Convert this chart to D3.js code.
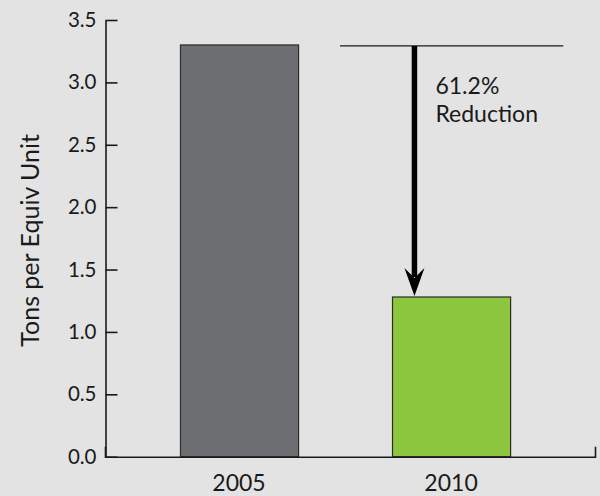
<!DOCTYPE html>
<html>
<head>
<meta charset="utf-8">
<script src="https://cdn.jsdelivr.net/npm/d3@7"></script>
<style>
  html, body { margin: 0; padding: 0; background: #e3e3e3; }
  svg { display: block; font-family: Lato, "Open Sans", sans-serif; }
  .tick text { fill: #1a1a1a; }
</style>
</head>
<body>
<div id="vis"></div>
<script>
var years = ['2005', '2010'];
var values = [3.30, 1.28];
var colors = ['#6d6e71', '#8cc63f'];
var yTicks = [0, 0.5, 1.0, 1.5, 2.0, 2.5, 3.0, 3.5];
var reductionLabel = ['61.2%', 'Reduction'];

var width = 600, height = 496;
var margin = {top: 20, left: 105, right: 5, bottom: 39.5};

var svg = d3.select('#vis').append('svg')
    .attr('width', width)
    .attr('height', height);

var x = d3.scaleBand().domain(years)
    .range([margin.left, width - margin.right])
    .paddingInner(0.443).paddingOuter(0.377).align(0.469);
var y = d3.scaleLinear().domain([0, 3.5])
    .range([height - margin.bottom + 0.2, margin.top]);

// bars
svg.append('g').selectAll('rect')
  .data(values)
  .enter()
  .append('rect')
  .attr('x', function(d, i) { return x(years[i]) + 0.5; })
  .attr('y', function(d) { return y(d); })
  .attr('width', x.bandwidth())
  .attr('height', function(d) { return y(0) - y(d); })
  .attr('fill', function(d, i) { return colors[i]; })
  .attr('stroke', '#2b2b2b')
  .attr('stroke-width', 1.2);

// y axis
var yAxis = d3.axisLeft(y).tickValues(yTicks)
    .tickFormat(d3.format('.1f'))
    .tickSizeInner(-12).tickSizeOuter(0).tickPadding(9);
var gy = svg.append('g')
    .attr('transform', 'translate(' + (margin.left + 0.5) + ',0)')
    .call(yAxis);
gy.selectAll('text').style('font-size', '20.5px').style('font-family', 'Lato, sans-serif');
gy.selectAll('line, path').attr('stroke', '#1a1a1a').attr('stroke-width', 1.6);

// x axis
var xAxis = d3.axisBottom(x).tickSizeInner(0).tickSizeOuter(-10).tickPadding(18);
var gx = svg.append('g')
    .attr('transform', 'translate(0,' + y(0) + ')')
    .call(xAxis);
gx.selectAll('text').style('font-size', '23px').style('font-family', 'Lato, sans-serif');
gx.select('.domain').attr('stroke', '#1a1a1a').attr('stroke-width', 1.6);

// y axis title
svg.append('text')
  .attr('transform', 'translate(39,' + ((y(0) + y(3.5)) / 2 + 2) + ')rotate(-90)')
  .attr('text-anchor', 'middle')
  .style('font-size', '25px')
  .attr('fill', '#1a1a1a')
  .text('Tons per Equiv Unit');

// reference line at 2005 level across the 2010 bar
var bx = x('2010');
var bw = x.bandwidth();
svg.append('line')
  .attr('x1', bx - bw * 0.44).attr('x2', bx + bw * 1.45)
  .attr('y1', y(values[0]) + 1).attr('y2', y(values[0]) + 1)
  .attr('stroke', '#1a1a1a').attr('stroke-width', 1.3);

// arrow
var ax = bx + bw * 0.19;
svg.append('line')
  .attr('x1', ax).attr('x2', ax)
  .attr('y1', y(values[0]) + 1).attr('y2', y(values[1]) - 20)
  .attr('stroke', '#000').attr('stroke-width', 5.5);
svg.append('path')
  .attr('d', 'M' + (ax - 10) + ',' + (y(values[1]) - 29) +
             'L' + ax + ',' + (y(values[1]) - 19) +
             'L' + (ax + 10) + ',' + (y(values[1]) - 29) +
             'L' + ax + ',' + (y(values[1]) - 1) + 'Z')
  .attr('fill', '#000');

var note = svg.append('text')
  .attr('x', ax + 21)
  .attr('y', 94)
  .style('font-size', '23px')
  .attr('fill', '#1a1a1a');
note.selectAll('tspan')
  .data(reductionLabel)
  .enter()
  .append('tspan')
  .attr('x', ax + 21)
  .attr('dy', function(d, i) { return i === 0 ? 0 : 28; })
  .text(function(d) { return d; });
</script>
</body>
</html>
